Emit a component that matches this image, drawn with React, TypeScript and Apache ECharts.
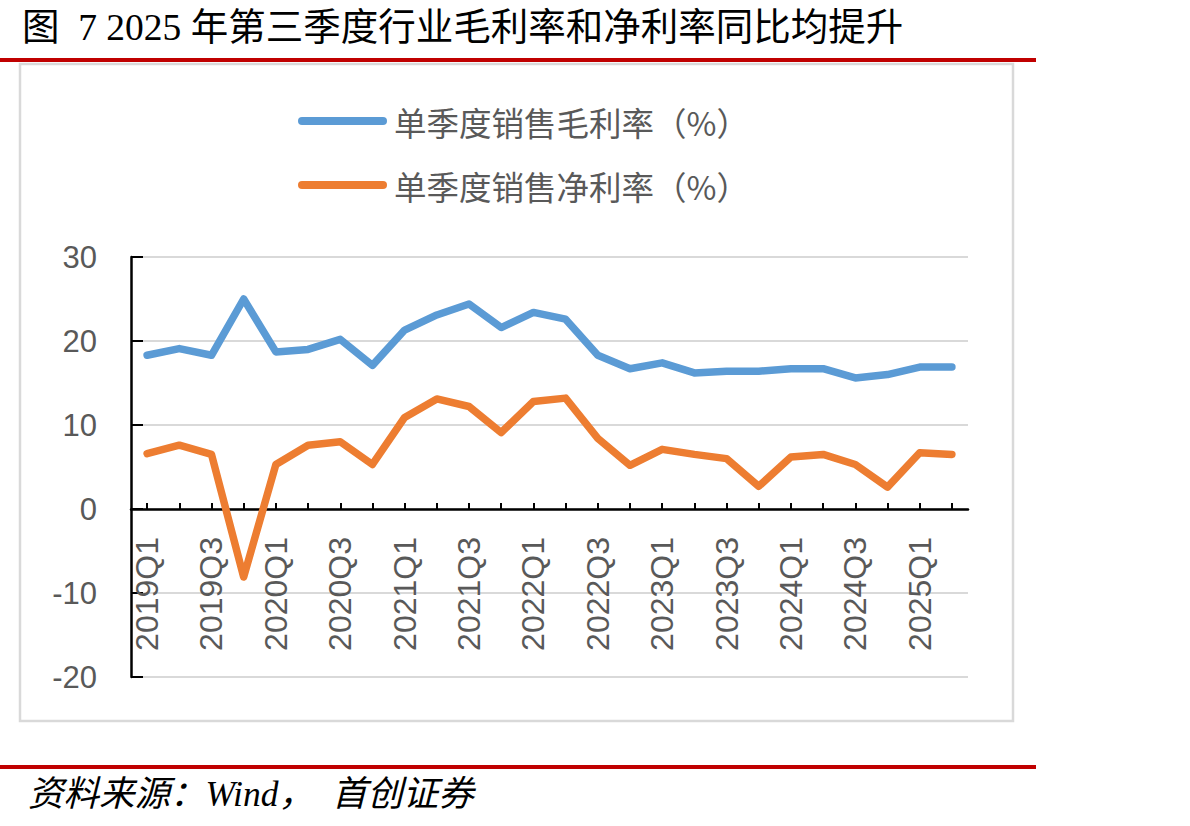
import React, { useEffect, useRef } from "react";
import * as echarts from "echarts";

// Quarterly categories, 2019Q1 – 2025Q2
const quarters: string[] = [
  "2019Q1", "2019Q2", "2019Q3", "2019Q4",
  "2020Q1", "2020Q2", "2020Q3", "2020Q4",
  "2021Q1", "2021Q2", "2021Q3", "2021Q4",
  "2022Q1", "2022Q2", "2022Q3", "2022Q4",
  "2023Q1", "2023Q2", "2023Q3", "2023Q4",
  "2024Q1", "2024Q2", "2024Q3", "2024Q4",
  "2025Q1", "2025Q2",
];

// 单季度销售毛利率（%）
const grossMargin: number[] = [
  18.3, 19.1, 18.3, 25.0, 18.7, 19.0, 20.2, 17.1, 21.3, 23.1, 24.4, 21.6, 23.4,
  22.6, 18.3, 16.7, 17.4, 16.2, 16.4, 16.4, 16.7, 16.7, 15.6, 16.0, 16.9, 16.9,
];

// 单季度销售净利率（%）
const netMargin: number[] = [
  6.6, 7.6, 6.5, -8.1, 5.3, 7.6, 8.0, 5.3, 10.9, 13.1, 12.2, 9.1, 12.8,
  13.2, 8.4, 5.2, 7.1, 6.5, 6.0, 2.7, 6.2, 6.5, 5.3, 2.6, 6.7, 6.5,
];

const seriesNames: string[] = ["单季度销售毛利率（%）", "单季度销售净利率（%）"];
const seriesColors: string[] = ["#5B9BD5", "#ED7D31"];

const titleText = "图  7 2025 年第三季度行业毛利率和净利率同比均提升";
const sourceText = "资料来源：Wind，  首创证券";

const yMin = -20;
const yMax = 30;
const yStep = 10;

// plot area edges (px)
const gridTop = 257;
const gridBottomY = 677;

export default function App() {
  const ref = useRef<HTMLDivElement | null>(null);

  useEffect(() => {
    if (!ref.current) return;
    const chart = echarts.init(ref.current, undefined, { renderer: "svg" });

    const axisFont = '"Liberation Sans", Arial, sans-serif';
    const cjkFont = '"Noto Sans CJK SC", sans-serif';

    // the category axis sits on the value 0 line
    const zeroOffset = ((0 - yMin) / (yMax - yMin)) * (gridBottomY - gridTop);

    const legendItems = seriesNames.map((name, i) => ({
      type: "group",
      children: [
        {
          type: "line",
          shape: { x1: 302, y1: 121 + i * 64, x2: 383, y2: 121 + i * 64 },
          style: { stroke: seriesColors[i], lineWidth: 8, lineCap: "round" },
        },
        {
          type: "text",
          x: 394,
          y: 121 + i * 64,
          style: {
            text: name,
            fill: "#595959",
            fontSize: 32.5,
            fontFamily: cjkFont,
            verticalAlign: "middle",
          },
        },
      ],
    }));

    chart.setOption({
      animation: false,
      backgroundColor: "#ffffff",
      grid: { left: 131, right: 222, top: gridTop, bottom: 826 - gridBottomY, containLabel: false },
      xAxis: {
        type: "category",
        data: quarters,
        boundaryGap: true,
        offset: -zeroOffset,
        axisLine: { onZero: false, lineStyle: { color: "#000000", width: 2.5 } },
        axisTick: {
          show: true,
          inside: true,
          length: 6,
          interval: 0,
          alignWithLabel: true,
          lineStyle: { color: "#000000", width: 2 },
        },
        axisLabel: {
          interval: 1,
          rotate: 90,
          margin: 28,
          color: "#595959",
          fontSize: 32,
          fontFamily: axisFont,
        },
        splitLine: { show: false },
      },
      yAxis: {
        type: "value",
        min: yMin,
        max: yMax,
        interval: yStep,
        axisLine: { show: true, lineStyle: { color: "#000000", width: 2.5 } },
        axisTick: {
          show: true,
          inside: true,
          length: 12,
          lineStyle: { color: "#000000", width: 2 },
        },
        axisLabel: {
          margin: 34,
          color: "#595959",
          fontSize: 31,
          fontFamily: axisFont,
        },
        splitLine: { show: true, lineStyle: { color: "#D9D9D9", width: 2 } },
      },
      series: [
        {
          name: seriesNames[0],
          type: "line",
          data: grossMargin,
          symbol: "none",
          z: 3,
          lineStyle: { color: seriesColors[0], width: 7.5, join: "round", cap: "round" },
        },
        {
          name: seriesNames[1],
          type: "line",
          data: netMargin,
          symbol: "none",
          z: 3,
          lineStyle: { color: seriesColors[1], width: 7.5, join: "round", cap: "round" },
        },
      ],
      graphic: [
        {
          type: "text",
          x: 22,
          y: 27,
          style: {
            text: titleText,
            fill: "#000000",
            fontSize: 37.5,
            fontFamily: '"Liberation Serif", "Noto Sans CJK SC", serif',
            verticalAlign: "middle",
          },
        },
        {
          type: "rect",
          shape: { x: 0, y: 58, width: 1036, height: 4 },
          style: { fill: "#C00000" },
        },
        {
          type: "rect",
          shape: { x: 20, y: 64, width: 993, height: 657 },
          style: { fill: "none", stroke: "#D9D9D9", lineWidth: 2.5 },
          z: -1,
        },
        ...legendItems,
        {
          type: "rect",
          shape: { x: 0, y: 765, width: 1036, height: 4 },
          style: { fill: "#C00000" },
        },
        {
          type: "text",
          x: 28,
          y: 794,
          style: {
            text: sourceText,
            fill: "#000000",
            fontSize: 35.5,
            fontStyle: "italic",
            fontFamily: '"Liberation Serif", "Noto Sans CJK SC", serif',
            verticalAlign: "middle",
          },
        },
      ],
    });

    return () => {
      chart.dispose();
    };
  }, []);

  return (
    <div
      ref={ref}
      style={{ position: "absolute", left: 0, top: 0, width: 1190, height: 826 }}
    />
  );
}
